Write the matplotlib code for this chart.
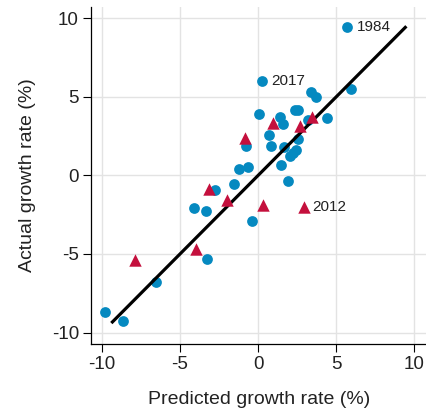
import matplotlib
matplotlib.use("Agg")
import matplotlib.pyplot as plt

plt.rcParams['font.family'] = ['Liberation Sans', 'DejaVu Sans']
plt.rcParams['axes.unicode_minus'] = False

# Years with a normal outcome (predicted, actual growth in %)
normal_pred = [5.72, 0.28, 5.95, 3.36, 3.71, 4.40, 3.23, 0.03, 1.41, 1.60,
               2.37, 2.58, 0.72, 0.83, 1.66, 2.56, 2.43, 2.21, 2.02, 1.49,
               -0.77, -1.20, -0.64, 1.94, -1.54, -2.77, -4.13, -3.36, -0.40,
               -3.28, -6.56, -9.80, -8.66]
normal_actual = [9.44, 6.00, 5.51, 5.32, 5.02, 3.64, 3.50, 3.89, 3.75, 3.25,
                 4.17, 4.17, 2.58, 1.85, 1.83, 2.29, 1.62, 1.40, 1.21, 0.64,
                 1.86, 0.38, 0.51, -0.35, -0.57, -0.92, -2.05, -2.26, -2.89,
                 -5.32, -6.78, -8.71, -9.29]

# Election years
election_pred = [0.96, 2.69, 3.44, -0.83, -3.12, -2.00, 0.30, 2.91, -3.97, -7.87]
election_actual = [3.34, 3.18, 3.73, 2.36, -0.89, -1.54, -1.88, -1.99, -4.68, -5.41]

# Labelled years
labels = ['1984', '2017', '2012']
label_x = [5.72, 0.28, 2.91]
label_y = [9.44, 6.00, -1.99]

# 45-degree reference line
line_x = [-9.4, 9.5]

ticks = [-10, -5, 0, 5, 10]
blue = '#0589c0'
red = '#c4103d'
text_color = '#222222'

fig = plt.figure(figsize=(4.27, 4.09), dpi=100)
ax = fig.add_axes([0.2124, 0.159, 0.7876, 0.824])

ax.scatter(normal_pred, normal_actual, s=60, color=blue, linewidths=0, zorder=3)
ax.plot(line_x, line_x, color='black', lw=2.3, solid_capstyle='butt', zorder=4)
ax.scatter(election_pred, election_actual, s=80, marker='^', color=red,
           linewidths=0, zorder=5)

for lab, lx, ly in zip(labels, label_x, label_y):
    ax.annotate(lab, (lx, ly), xytext=(6.5, 0), textcoords='offset points',
                ha='left', va='center', fontsize=11, color=text_color)

ax.set_xlim(-10.72, 10.82)
ax.set_ylim(-10.73, 10.73)
ax.set_xticks(ticks)
ax.set_yticks(ticks)
ax.grid(True, color='#e3e3e3', lw=1.0)
ax.set_axisbelow(True)

for side in ['top', 'right']:
    ax.spines[side].set_visible(False)
for side in ['left', 'bottom']:
    ax.spines[side].set_color('black')
    ax.spines[side].set_linewidth(0.9)

ax.tick_params(direction='out', length=5.5, width=0.8, labelsize=13.5,
               colors='black', labelcolor=text_color, pad=3)

ax.set_xlabel('Predicted growth rate (%)', fontsize=14, color=text_color,
              labelpad=13)
ax.set_ylabel('Actual growth rate (%)', fontsize=14, color=text_color,
              labelpad=11)

fig.savefig('out.png', dpi=100)
